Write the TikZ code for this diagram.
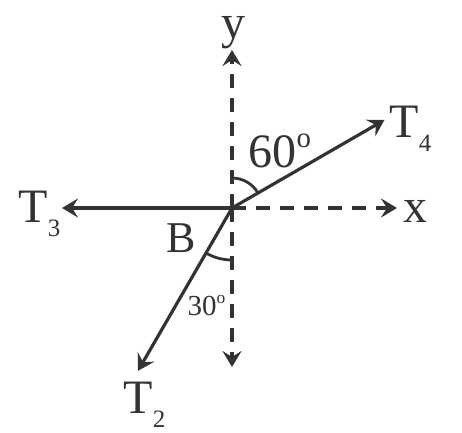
\documentclass[tikz,border=0pt]{standalone}
\usepackage{fontspec}
\setmainfont{Liberation Serif}
\usepackage{tikz}
\usetikzlibrary{arrows.meta}
\newcommand{\tsub}[1]{\raisebox{-0.3em}{\fontsize{25}{25}\selectfont #1}}
\newcommand{\tdeg}{\raisebox{0.4em}{\fontsize{0.6em}{1em}\selectfont o}}

\begin{document}
\begin{tikzpicture}[x=1pt, y=1pt, line width=3.2pt, color={black!80},
  force/.style={-{Stealth[length=16pt, width=19pt, inset=6pt]}},
  axis/.style={dash pattern=on 14pt off 10pt, -{Stealth[length=16pt, width=19pt, inset=6pt]}},
  lbl/.style={anchor=base west, inner sep=0pt, font=\fontsize{48}{48}\selectfont}]
\useasboundingbox (-232, -224) rectangle (230, 208);
\coordinate (B) at (0, 0);
\coordinate (yt) at (0, 158);
\coordinate (yb) at (0, -159);
\coordinate (xt) at (165, 0);
\coordinate (t3) at (-170, 0);
\coordinate (t4) at (30:176);
\coordinate (t2) at (240:188);
% axes
\draw[axis] (B) -- (yt);
\draw[axis] (B) -- (yb);
\draw[axis] (B) -- (xt);
% tensions
\draw[force] (B) -- (t4);
\draw[force] (B) -- (t3);
\draw[force] (B) -- (t2);
% angles
\draw[line width=2.8pt] (0, 30) arc[start angle=90, end angle=30, radius=30];
\draw[line width=2.8pt] (0, -52) arc[start angle=270, end angle=240, radius=52];
% labels
\node[lbl, anchor=base] (ly) at (1, 170) {y};
\node[lbl] (lx) at (170, -14) {x};
\node[lbl] (l4) at (156, 71) {T\tsub{4}};
\node[lbl] (l3) at (-215, -14) {T\tsub{3}};
\node[lbl] (l2) at (-110, -205) {T\tsub{2}};
\node[lbl, font=\fontsize{44}{44}\selectfont] (lb) at (-67, -44) {B};
\node[lbl] (l60) at (15, 41) {60\tdeg};
\node[lbl, font=\fontsize{29}{29}\selectfont] (l30) at (-46, -107) {30\tdeg};
\end{tikzpicture}
\end{document}
